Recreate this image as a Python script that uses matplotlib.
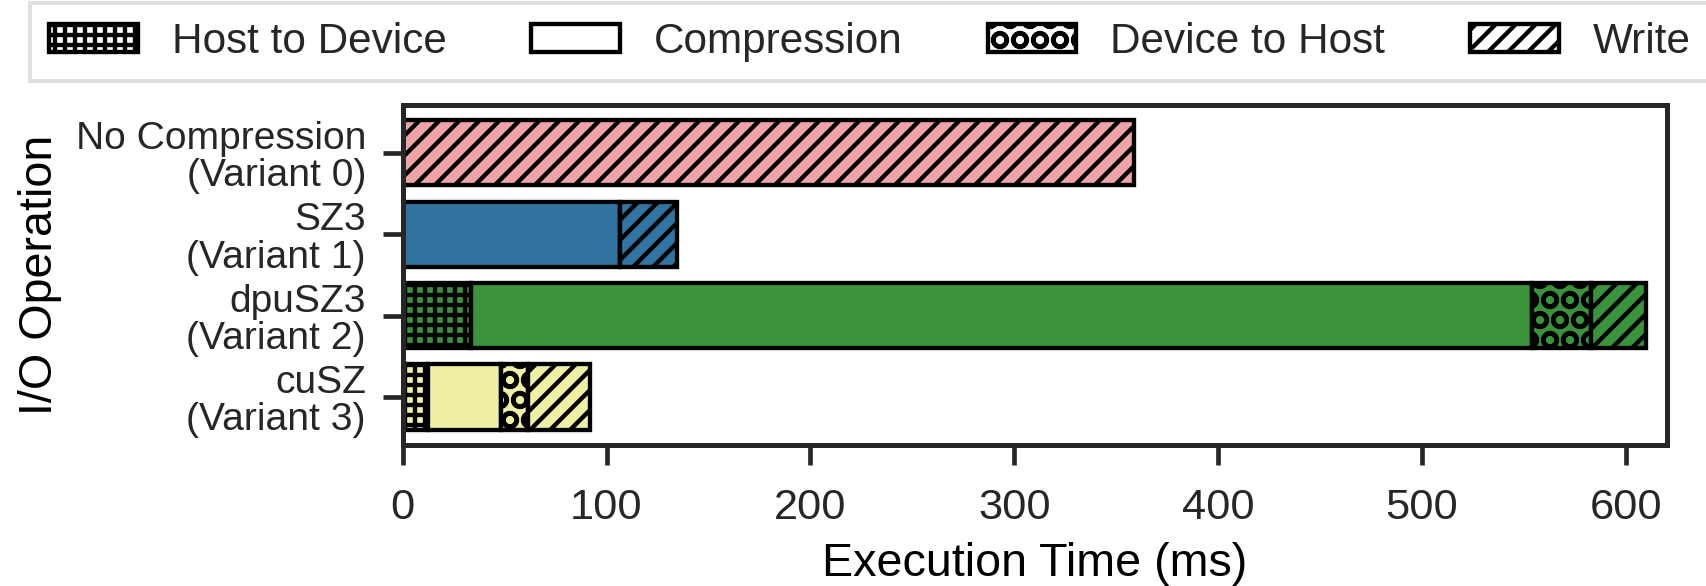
import numpy as np
import matplotlib
matplotlib.use("Agg")
from matplotlib import pyplot as plt
from matplotlib.patches import Patch

# dados (ms)
operations = ["No Compression\n(Variant 0)", "SZ3\n(Variant 1)",
              "dpuSZ3\n(Variant 2)", "cuSZ\n(Variant 3)"]
stages = ["Host to Device", "Compression", "Device to Host", "Write"]
host_to_device = [0, 0, 33.5, 12.3]
compression = [0, 106.6, 520.5, 36.1]
device_to_host = [0, 0, 28.6, 13.1]
write = [358.5, 27.8, 27.4, 30.3]

bar_colors = ["#eea3a6", "#3274a1", "#3a923a", "#f0f0a5"]
hatches = ["++++", "", "OO", "////"]

plt.rcParams["font.family"] = ["Liberation Sans", "DejaVu Sans"]
plt.rcParams["hatch.linewidth"] = 1.3
plt.rcParams["axes.edgecolor"] = "#262626"
plt.rcParams["text.color"] = "#262626"
plt.rcParams["xtick.color"] = "#262626"
plt.rcParams["ytick.color"] = "#262626"

fig = plt.figure(figsize=(1706 / 240, 586 / 240), dpi=240)
ax = fig.add_axes([0.236, 0.2406, 0.741, 0.5804])

y = np.arange(len(operations))
left = np.zeros(len(operations))
for stage, values, hatch in zip(stages, [host_to_device, compression, device_to_host, write], hatches):
    values = np.array(values)
    ax.barh(y, values, left=left, height=0.8, color=bar_colors,
            edgecolor="black", linewidth=1.3, hatch=hatch)
    left = left + values

ax.set_yticks(y)
ax.set_yticklabels(operations, fontsize=11.7, linespacing=1.05)
ax.invert_yaxis()
ax.set_xlim(0, 620)
ax.set_xticks([0, 100, 200, 300, 400, 500, 600])
ax.tick_params(axis="x", labelsize=13, length=6, width=1.4, pad=7)
ax.tick_params(axis="y", length=6, width=1.4, pad=5)
for s in ax.spines.values():
    s.set_linewidth(1.5)

ax.set_xlabel("Execution Time (ms)", fontsize=14, labelpad=4)
ax.set_ylabel("I/O Operation", fontsize=14, labelpad=4)

handles = [Patch(facecolor="white", edgecolor="black", linewidth=1.3, hatch=h) for h in hatches]
leg = fig.legend(handles, stages, loc="upper left", bbox_to_anchor=(30 / 1706, 1 - 3 / 586),
                 borderaxespad=0, ncol=4, fontsize=12.7, frameon=True, handlelength=2.1,
                 handleheight=0.66, handletextpad=0.8, columnspacing=2.0, borderpad=0.45,
                 fancybox=False)
leg.get_frame().set_edgecolor("#d9d9d9")
leg.get_frame().set_linewidth(1.2)

fig.savefig("out.png", dpi=240)
